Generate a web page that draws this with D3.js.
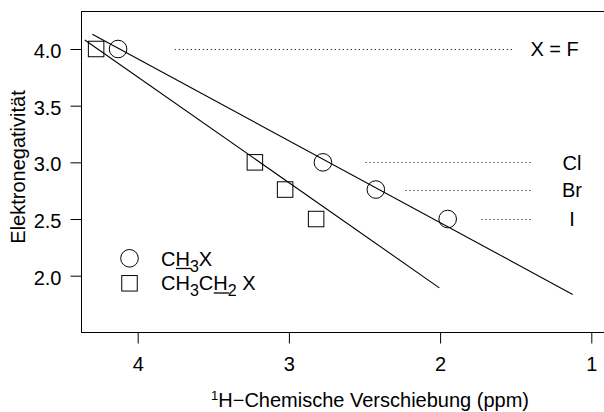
<!DOCTYPE html>
<html>
<head>
<meta charset="utf-8">
<script src="https://cdn.jsdelivr.net/npm/d3@7"></script>
<style>
  html, body { margin: 0; padding: 0; background: #fff; }
  svg { display: block; font-family: "Liberation Sans", Arial, sans-serif; }
</style>
</head>
<body>
<svg id="chart" width="604" height="412"></svg>
<script>
// ---- data ----
const halogens = ["F", "Cl", "Br", "I"];
const electronegativity = [4.0, 3.0, 2.76, 2.5];
const shiftCH3X = [4.13, 2.775, 2.425, 1.95];
const shiftCH3CH2X = [4.275, 3.225, 3.025, 2.82];
const fitCH3X = [[4.30, 4.13], [1.123, 1.835]];
const fitCH3CH2X = [[4.35, 4.08], [2.005, 1.893]];
const guideFrom = [3.755, 2.493, 2.229, 1.726];
const guideTo = [1.508, 1.383, 1.383, 1.383];
const xTicks = [4, 3, 2, 1];
const yTicks = [2.0, 2.5, 3.0, 3.5, 4.0];

// ---- layout ----
const svg = d3.select("#chart");
const mLeft = 81, mTop = 11, mBottom = 332, mRight = 640;
const x = d3.scaleLinear().domain([4, 1]).range([137.7, 591.3]);
const y = d3.scaleLinear().domain([4, 2]).range([49, 275.7]);
const FS = 20;

// frame
svg.append("rect")
  .attr("x", mLeft + 0.5).attr("y", mTop + 0.5)
  .attr("width", mRight - mLeft).attr("height", mBottom - mTop)
  .attr("fill", "none").attr("stroke", "#000").attr("stroke-width", 1);

// axes
const yAxis = d3.axisLeft(y).tickValues(yTicks).tickSize(11).tickPadding(9)
  .tickFormat(d3.format(".1f"));
const gy = svg.append("g").attr("transform", `translate(${mLeft + 0.5},0)`).call(yAxis);
gy.select(".domain").remove();
gy.selectAll("text").attr("font-size", FS).attr("font-family", "Liberation Sans, Arial, sans-serif")
  .attr("dy", "0.42em").attr("fill", "#000");
gy.selectAll("line").attr("stroke", "#000");

const xAxis = d3.axisBottom(x).tickValues(xTicks).tickSize(11).tickPadding(13)
  .tickFormat(d3.format("d"));
const gx = svg.append("g").attr("transform", `translate(0,${mBottom + 0.5})`).call(xAxis);
gx.select(".domain").remove();
gx.selectAll("text").attr("font-size", FS).attr("font-family", "Liberation Sans, Arial, sans-serif")
  .attr("fill", "#000");
gx.selectAll("line").attr("stroke", "#000");

// axis titles
const xt = svg.append("text").attr("x", 370).attr("y", 407)
  .attr("text-anchor", "middle").attr("font-size", FS);
xt.append("tspan").attr("font-size", 13).attr("dy", -7).text("1");
xt.append("tspan").attr("dy", 7).text("H\u2212Chemische Verschiebung (ppm)");

svg.append("text")
  .attr("transform", "translate(25,167) rotate(-90)")
  .attr("text-anchor", "middle").attr("font-size", FS)
  .text("Elektronegativität");

// guide (dotted) lines and halogen labels
const guides = halogens.map((h, i) => ({ h, e: electronegativity[i], a: guideFrom[i], b: guideTo[i] }));
svg.append("g").selectAll("line").data(guides).join("line")
  .attr("x1", d => x(d.a)).attr("x2", d => x(d.b))
  .attr("y1", d => Math.round(y(d.e)) + 0.5).attr("y2", d => Math.round(y(d.e)) + 0.5)
  .attr("stroke", "#000").attr("stroke-width", 1).attr("stroke-dasharray", "1,3");

const labelX = 1.128;
svg.append("g").selectAll("text").data(guides).join("text")
  .attr("x", d => d.h === "F" ? x(1.083) : x(labelX))
  .attr("y", d => y(d.e) + 7.3)
  .attr("text-anchor", d => d.h === "F" ? "end" : "middle")
  .attr("font-size", FS)
  .text(d => d.h === "F" ? "X = F" : d.h);

// fit lines
const line = d3.line().x(d => x(d[0])).y(d => y(d[1]));
[fitCH3X, fitCH3CH2X].forEach(f => {
  svg.append("path").attr("d", line(f)).attr("fill", "none")
    .attr("stroke", "#000").attr("stroke-width", 1.1);
});

// points
const R = 8.8, S = 15.5;
svg.append("g").selectAll("circle").data(shiftCH3X).join("circle")
  .attr("cx", d => x(d)).attr("cy", (d, i) => y(electronegativity[i])).attr("r", R)
  .attr("fill", "none").attr("stroke", "#000").attr("stroke-width", 1);
svg.append("g").selectAll("rect").data(shiftCH3CH2X).join("rect")
  .attr("x", d => x(d) - S / 2).attr("y", (d, i) => y(electronegativity[i]) - S / 2)
  .attr("width", S).attr("height", S)
  .attr("fill", "none").attr("stroke", "#000").attr("stroke-width", 1);

// legend
const lgX = 129.5, txX = 161;
svg.append("circle").attr("cx", lgX).attr("cy", 258.3).attr("r", R)
  .attr("fill", "none").attr("stroke", "#000");
svg.append("rect").attr("x", lgX - S / 2).attr("y", 283.3 - S / 2).attr("width", S).attr("height", S)
  .attr("fill", "none").attr("stroke", "#000");

function formula(parts, baseY) {
  const t = svg.append("text").attr("x", txX).attr("y", baseY).attr("font-size", FS);
  parts.forEach(p => {
    const s = t.append("tspan").text(p.t);
    if (p.sub) s.attr("font-size", 16).attr("dy", 6);
    else if (p.after) s.attr("dy", -6);
  });
  let offset = 0;
  const node = t.node();
  parts.forEach(p => {
    const len = p.t.length;
    if (p.u) {
      const sx = node.getStartPositionOfChar(offset).x;
      const ex = node.getEndPositionOfChar(offset + len - 1).x;
      svg.append("line").attr("x1", sx + 0.5).attr("x2", ex + 1.5)
        .attr("y1", baseY + 3).attr("y2", baseY + 3)
        .attr("stroke", "#000").attr("stroke-width", 1.3);
    }
    offset += len;
  });
}
formula([{ t: "C" }, { t: "H", u: true }, { t: "3", sub: true }, { t: "X", after: true }], 265.5);
formula([{ t: "CH" }, { t: "3", sub: true }, { t: "C", after: true }, { t: "H", u: true },
         { t: "2", sub: true }, { t: " X", after: true }], 290);
</script>
</body>
</html>
